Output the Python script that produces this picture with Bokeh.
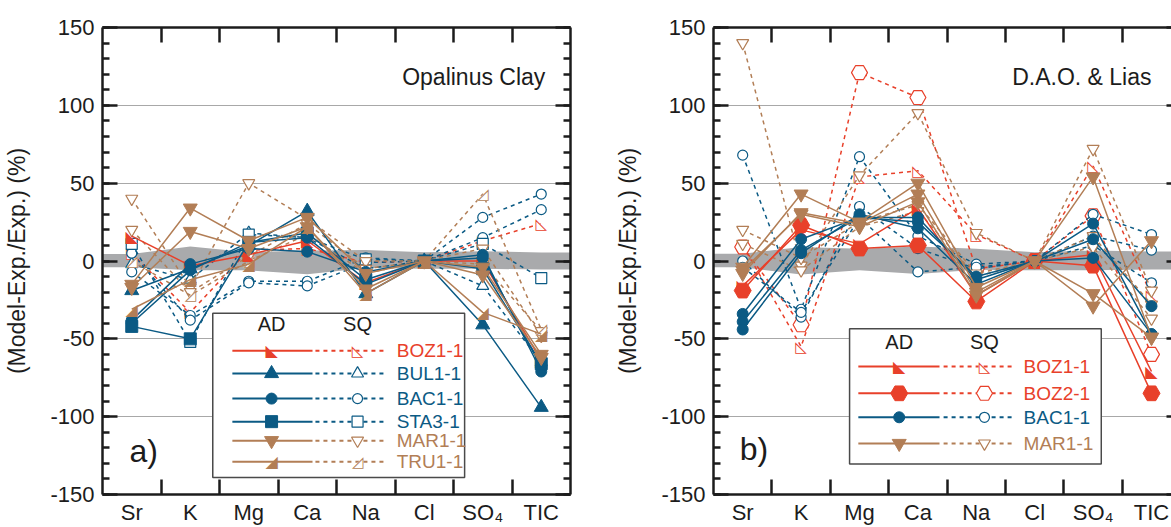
from bokeh.plotting import figure
from bokeh.layouts import row
from bokeh.models import FixedTicker, LinearAxis, Range1d, BoxAnnotation, Label, Grid
from bokeh.core.properties import value
from bokeh.embed import file_html
from bokeh.resources import INLINE

# ------------------------------------------------------------------ data
categories = ["Sr", "K", "Mg", "Ca", "Na", "Cl", "SO\u2084", "TIC"]
y_major = [-150, -100, -50, 0, 50, 100, 150]
y_major_labels = ["-150", "-100", "-50", "0", "50", "100", "150"]
y_minor = list(range(-150, 151, 10))
grid_values = [-100, -50, 0, 50, 100]

# panel a) Opalinus Clay
a_band_low = [-4, -6, -6, -8.5, -4.5, -5, -5, -5.5]
a_band_high = [4.5, 9.3, 5.7, 6.7, 7.0, 5.7, 6.3, 5.5]
a_BOZ1_AD = [[16, -3, 4, 13, -14, 0, 0, -64]]
a_BOZ1_SQ = [[5, -33, 7, 8, -1, 0, 13, 24]]
a_BUL1_AD = [[-19, -5, 10, 32, -21, 0, -41, -94]]
a_BUL1_SQ = [[-2, -12, 18, 15, -5, 0, -16, -65]]
a_BAC1_AD = [[-38, -2, 8, 6, -7, 0, 4, -71], [-40, -6, 12, 15, -15, 0, 2, -68]]
a_BAC1_SQ = [[-7, -35, -13, -13, 2, 0, 28, 43], [5, -38, -14, -16, -1, 0, 15, 33]]
a_STA3_AD = [[-42, -50, 12, 18, -12, 0, -5, -66]]
a_STA3_SQ = [[11, -52, 17, 15, 1, 0, 11, -11]]
a_MAR1_AD = [[-15, 34, 13, 28, -8, 0, -4, -60], [-17, 19, 8, 22, -18, 0, -9, -62]]
a_MAR1_SQ = [[40, -17, 50, 27, 0, 0, 8, -48], [20, -20, 3, 24, -5, 0, -2, -45]]
a_TRU1_AD = [[-31, -12, -2, 22, -21, 0, -33, -47]]
a_TRU1_SQ = [[0, -22, 0, 17, -8, 0, 43, -44]]

# panel b) D.A.O. & Lias
b_band_low = [-4, -8.7, -6, -8.3, -5.7, -6, -6, -5.5]
b_band_high = [4.6, 9.0, 7.8, 9.3, 7.8, 5.7, 6.8, 6.1]
b_BOZ1_AD = [[-16, 20, 11, 34, -22, 0, 4, -71]]
b_BOZ1_SQ = [[10, -55, 54, 58, 17, 0, 61, -22]]
b_BOZ2_AD = [[-19, 23, 8, 10, -26, 0, -3, -85]]
b_BOZ2_SQ = [[9, -41, 121, 105, -5, 0, 29, -60]]
b_BAC1_AD = [[-34, 14, 28, 28, -12, 0, 24, -47],
             [-39, 7, 28, 25, -10, 0, 14, -29],
             [-44, 5, 30, 21, -15, 0, 2, -47]]
b_BAC1_SQ = [[68, -31, 67, 16, -2, 0, 30, 17],
             [0, -36, 35, 8, -5, 0, 16, 7],
             [-4, -33, 28, -7, -4, 0, 10, -14]]
b_MAR1_AD = [[-4, 43, 25, 50, -17, 0, 54, -49],
             [-8, 31, 24, 43, -20, 0, -21, -49],
             [-6, 30, 22, 38, -22, 0, -29, 13]]
b_MAR1_SQ = [[140, -3, 55, 95, 18, 0, 72, -19],
             [20, 2, 25, 36, -8, 0, 16, -28],
             [11, -6, 22, 32, -10, 0, 9, -37]]

a_legend_names = ["BOZ1-1", "BUL1-1", "BAC1-1", "STA3-1", "MAR1-1", "TRU1-1"]
b_legend_names = ["BOZ1-1", "BOZ2-1", "BAC1-1", "MAR1-1"]

# ------------------------------------------------------------------ styles
RED = "#e8402a"
BLUE = "#0b5a84"
BROWN = "#b27e56"
BAND = "#a9aaac"
GRID = "#a8a8a8"
INK = "#1c1c1c"
FONT = "Liberation Sans"

style = {
    "BOZ1-1": (RED, "rtri"),
    "BOZ2-1": (RED, "hex"),
    "BUL1-1": (BLUE, "triangle"),
    "BAC1-1": (BLUE, "circle"),
    "STA3-1": (BLUE, "square"),
    "MAR1-1": (BROWN, "inverted_triangle"),
    "TRU1-1": (BROWN, "ltri"),
}
SIZES = {"rtri": (16, 15), "ltri": (16, 15), "hex": (17, 16), "triangle": (14, 12),
         "circle": (11, 10), "square": (12, 11), "inverted_triangle": (14, 12)}
GLYPH_CH = {"rtri": ("\u25E3", "\u25FA"), "ltri": ("\u25E2", "\u25FF")}

XS = list(range(1, len(categories) + 1))


def draw_markers(p, xs, ys, name, filled, level="glyph"):
    color, kind = style[name]
    size = SIZES[kind][0 if filled else 1]
    if kind in GLYPH_CH:
        solid_ch, open_ch = GLYPH_CH[kind]
        n = len(xs)
        common = dict(text_font=value("DejaVu Sans"), text_font_size=f"{size}px",
                      text_align="center", text_baseline="middle", level=level)
        if filled:
            p.text(x=xs, y=ys, text=[solid_ch] * n, text_color=color, **common)
        else:
            p.text(x=xs, y=ys, text=[solid_ch] * n, text_color="white", **common)
            p.text(x=xs, y=ys, text=[open_ch] * n, text_color=color, **common)
    else:
        if filled:
            p.scatter(x=xs, y=ys, marker=kind, size=size, fill_color=color,
                      line_color=color, line_width=1, level=level)
        else:
            p.scatter(x=xs, y=ys, marker=kind, size=size, fill_color="white",
                      line_color=color, line_width=1.2, level=level)


def draw_series(p, name, kind, rows):
    color = style[name][0]
    for vals in rows:
        if kind == "SQ":
            p.line(x=XS, y=vals, line_color=color, line_width=1.5, line_dash="4 4")
            draw_markers(p, XS, vals, name, filled=False)
        else:
            p.line(x=XS, y=vals, line_color=color, line_width=1.5)
            draw_markers(p, XS, vals, name, filled=True)


def draw_legend(p, names, box, header_y, row_ys, solid_x, filled_x, dash_x, open_x, label_x):
    p.add_layout(BoxAnnotation(left=box[0], right=box[1], top=box[2], bottom=box[3],
                               fill_color="white", fill_alpha=1.0,
                               line_color="#4a4a4a", line_width=1.5, line_alpha=1.0))
    for txt, xx in (("AD", filled_x), ("SQ", open_x)):
        p.add_layout(Label(x=xx, y=header_y, text=txt, text_align="center",
                           text_baseline="middle", text_font=FONT, text_font_size="20px",
                           text_color=INK, level="overlay"))
    for name, yy in zip(names, row_ys):
        color = style[name][0]
        p.line(x=list(solid_x), y=[yy, yy], line_color=color, line_width=2, level="overlay")
        draw_markers(p, [filled_x], [yy], name, filled=True, level="overlay")
        p.line(x=list(dash_x), y=[yy, yy], line_color=color, line_width=2,
               line_dash="4 4", level="overlay")
        draw_markers(p, [open_x], [yy], name, filled=False, level="overlay")
        p.add_layout(Label(x=label_x, y=yy, text=name, text_align="left",
                           text_baseline="middle", text_font=FONT, text_font_size="19px",
                           text_color=color, level="overlay"))


def build(width, border_left, border_right, xend, full_frame):
    p = figure(width=width, height=527, x_range=Range1d(0.5, xend), y_range=Range1d(-150, 150),
               x_axis_type=None, y_axis_type=None, toolbar_location=None, output_backend="svg",
               min_border_left=border_left, min_border_right=border_right,
               min_border_top=27, min_border_bottom=33)
    p.outline_line_color = None
    p.background_fill_color = "white"
    p.border_fill_color = "white"

    p.add_layout(Grid(dimension=1, ticker=FixedTicker(ticks=grid_values),
                      grid_line_color=GRID, grid_line_width=1))

    yt = FixedTicker(ticks=y_major, minor_ticks=y_minor)
    xt = FixedTicker(ticks=XS, minor_ticks=[x + 0.5 for x in XS[:-1]])
    common = dict(axis_line_color=INK, axis_line_width=2.5,
                  major_tick_line_color=INK, minor_tick_line_color=INK,
                  major_tick_line_width=2.5, minor_tick_line_width=2.5,
                  major_label_text_font=FONT)
    hidden = dict(major_label_text_font_size="1px", major_label_text_color=None,
                  major_label_standoff=0)

    left = LinearAxis(ticker=yt, major_tick_in=15, major_tick_out=0, minor_tick_in=7,
                      minor_tick_out=0, major_label_text_font_size="22px",
                      major_label_text_color=INK, major_label_standoff=8,
                      major_label_overrides={v: s for v, s in zip(y_major, y_major_labels)},
                      axis_label="(Model-Exp./Exp.) (%)",
                      axis_label_text_font=FONT, axis_label_text_font_size="23px",
                      axis_label_text_font_style="normal", axis_label_text_color=INK,
                      axis_label_standoff=17, **common)
    p.add_layout(left, "left")

    if full_frame:
        right = LinearAxis(ticker=yt, major_tick_in=15, major_tick_out=0, minor_tick_in=7,
                           minor_tick_out=0, **hidden, **common)
    else:
        right = LinearAxis(ticker=yt, major_tick_in=5, major_tick_out=0, minor_tick_in=0,
                           minor_tick_out=0, **hidden, **dict(common, axis_line_color=None))
    p.add_layout(right, "right")

    below = LinearAxis(ticker=xt, major_tick_in=0, major_tick_out=0, minor_tick_in=15,
                       minor_tick_out=0, major_label_text_font_size="22px",
                       major_label_text_color=INK, major_label_standoff=5,
                       major_label_overrides={x: c for x, c in zip(XS, categories)}, **common)
    p.add_layout(below, "below")
    above = LinearAxis(ticker=xt, major_tick_in=0, major_tick_out=0, minor_tick_in=15,
                       minor_tick_out=0, **hidden, **common)
    p.add_layout(above, "above")
    return p


def add_band(p, low, high):
    bx = [0.5] + XS + [len(XS) + 0.5]
    p.varea(x=bx, y1=[low[0]] + low + [low[-1]], y2=[high[0]] + high + [high[-1]],
            fill_color=BAND, fill_alpha=1.0)


# ------------------------------------------------------------------ panel a
pa = build(586, 102, 16, 8.5, True)
add_band(pa, a_band_low, a_band_high)
for nm, kd, rows in [("BOZ1-1", "SQ", a_BOZ1_SQ), ("BUL1-1", "SQ", a_BUL1_SQ),
                     ("BAC1-1", "SQ", a_BAC1_SQ), ("STA3-1", "SQ", a_STA3_SQ),
                     ("MAR1-1", "SQ", a_MAR1_SQ), ("TRU1-1", "SQ", a_TRU1_SQ),
                     ("BOZ1-1", "AD", a_BOZ1_AD), ("BUL1-1", "AD", a_BUL1_AD),
                     ("BAC1-1", "AD", a_BAC1_AD), ("STA3-1", "AD", a_STA3_AD),
                     ("MAR1-1", "AD", a_MAR1_AD), ("TRU1-1", "AD", a_TRU1_AD)]:
    draw_series(pa, nm, kd, rows)
draw_legend(pa, a_legend_names, box=(2.385, 6.69, -33.5, -139.0), header_y=-40.6,
            row_ys=[-57.6, -72.3, -88.4, -103.2, -115.4, -128.9],
            solid_x=(2.72, 4.09), filled_x=3.39, dash_x=(4.14, 5.34), open_x=4.86,
            label_x=5.53)
pa.add_layout(Label(x=8.07, y=118, text="Opalinus Clay", text_align="right",
                    text_baseline="middle", text_font=FONT, text_font_size="23px",
                    text_color=INK))
pa.add_layout(Label(x=0.96, y=-122, text="a)", text_align="left", text_baseline="middle",
                    text_font=FONT, text_font_size="32px", text_color=INK))

# ------------------------------------------------------------------ panel b
frame_b = 585 - 127
pb = build(585, 127, 0, 0.5 + frame_b / 58.4, False)
add_band(pb, b_band_low, b_band_high)
for nm, kd, rows in [("BOZ1-1", "SQ", b_BOZ1_SQ), ("BOZ2-1", "SQ", b_BOZ2_SQ),
                     ("BAC1-1", "SQ", b_BAC1_SQ), ("MAR1-1", "SQ", b_MAR1_SQ),
                     ("BOZ1-1", "AD", b_BOZ1_AD), ("BOZ2-1", "AD", b_BOZ2_AD),
                     ("BAC1-1", "AD", b_BAC1_AD), ("MAR1-1", "AD", b_MAR1_AD)]:
    draw_series(pb, nm, kd, rows)
draw_legend(pb, b_legend_names, box=(2.83, 7.14, -43.6, -130.4), header_y=-52.2,
            row_ys=[-67.8, -85.0, -100.4, -117.2],
            solid_x=(2.98, 4.37), filled_x=3.68, dash_x=(4.44, 5.64), open_x=5.14,
            label_x=5.81)
pb.add_layout(Label(x=8.0, y=118, text="D.A.O. & Lias", text_align="right",
                    text_baseline="middle", text_font=FONT, text_font_size="23px",
                    text_color=INK))
pb.add_layout(Label(x=0.95, y=-121, text="b)", text_align="left", text_baseline="middle",
                    text_font=FONT, text_font_size="32px", text_color=INK))

layout = row(pa, pb)
open("out.html", "w").write(file_html(layout, INLINE))
